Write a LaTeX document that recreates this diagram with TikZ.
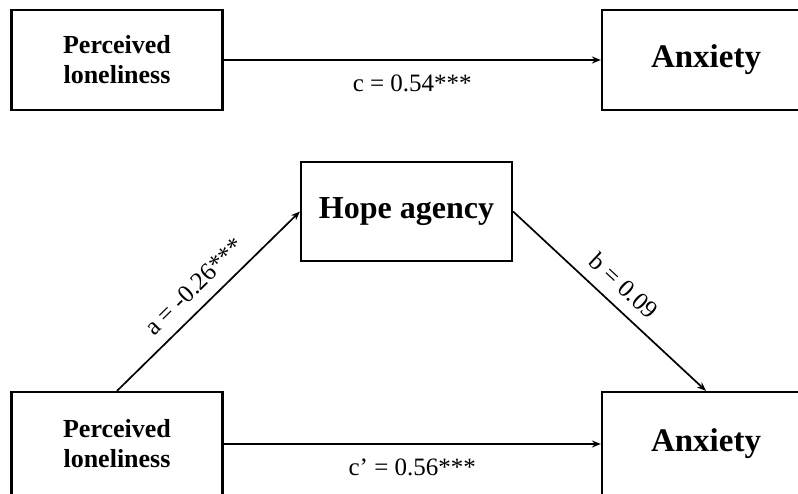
\documentclass[tikz,border=0pt]{standalone}
\usepackage{fontspec}
\setmainfont{Liberation Serif}
\usetikzlibrary{arrows.meta}
\tikzset{
    varbox/.style={draw, line width=2.2pt, align=center, font=\bfseries\fontsize{26}{30}\selectfont},
    path/.style={line width=1.7pt, -{Stealth[length=9pt,width=7pt]}},
    coef/.style={font=\fontsize{25}{29}\selectfont}
}
\begin{document}
\begin{tikzpicture}[x=1pt,y=-1pt]
    \useasboundingbox (0,0) rectangle (798,493);
    \clip (0,0) rectangle (798,493);
    \node[varbox, minimum width=211pt, minimum height=100pt] (perc1) at (117,60) {Perceived\\loneliness};
    \node[varbox, minimum width=208pt, minimum height=100pt, font=\bfseries\fontsize{33}{37}\selectfont] (anx1) at (706,60) {Anxiety};
    \node[varbox, minimum width=211pt, minimum height=99pt, font=\bfseries\fontsize{32}{36}\selectfont] (hope) at (406.5,211.5) {Hope agency};
    \node[varbox, minimum width=211pt, minimum height=104pt] (perc2) at (117,444) {Perceived\\loneliness};
    \node[varbox, minimum width=208pt, minimum height=104pt, font=\bfseries\fontsize{33}{37}\selectfont] (anx2) at (706,444) {Anxiety};
    \draw[path] (perc1.east) -- (anx1.west) node[coef, midway, below=11pt]{c = 0.54***};
    \draw[path] (perc2.north) -- (hope.west) node[coef, midway, sloped, above=8pt]{a = -0.26***};
    \draw[path] (hope.east) -- (anx2.north) node[coef, midway, sloped, above=8pt]{b = 0.09};
    \draw[path] (perc2.east) -- (anx2.west) node[coef, midway, below=11pt]{c’ = 0.56***};
\end{tikzpicture}
\end{document}
